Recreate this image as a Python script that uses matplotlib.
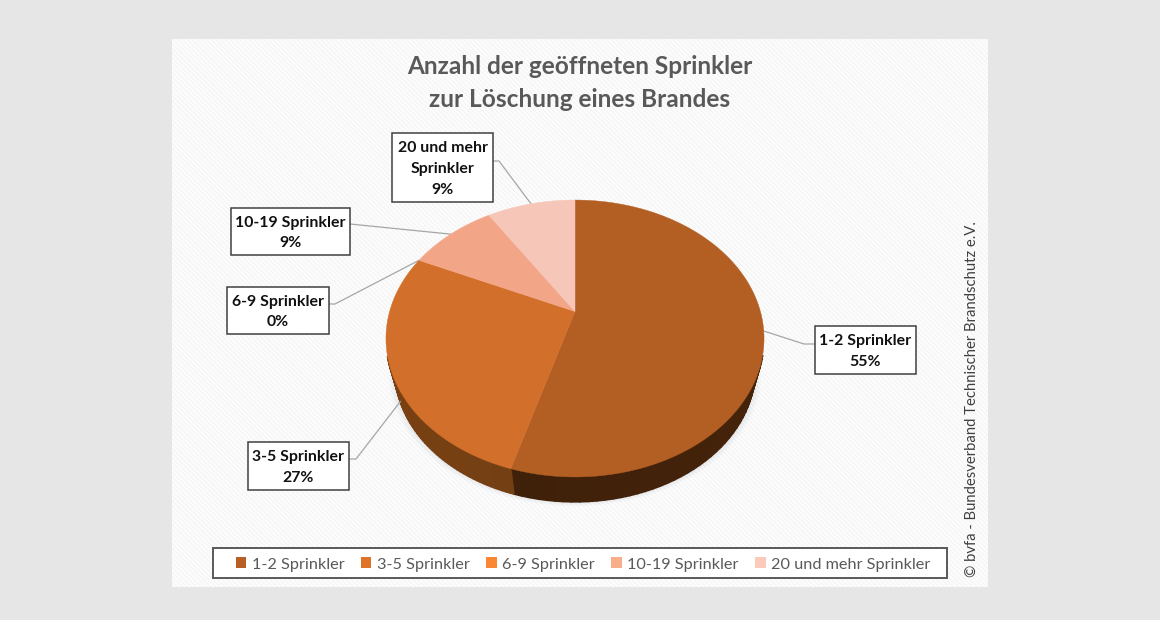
"""Anzahl der geoeffneten Sprinkler: tilted 3D look pie with callout labels."""
import matplotlib
matplotlib.use("Agg")
import matplotlib.pyplot as plt
import numpy as np
from matplotlib.collections import PolyCollection
from matplotlib.colors import to_rgb
from matplotlib.patches import Patch, Rectangle

categories = ["1-2 Sprinkler", "3-5 Sprinkler", "6-9 Sprinkler", "10-19 Sprinkler", "20 und mehr Sprinkler"]
fires = [6, 3, 0, 1, 1]
percent_labels = ["55%", "27%", "0%", "9%", "9%"]

TITLE = "Anzahl der geöffneten Sprinkler\nzur Löschung eines Brandes"
CREDIT = "© bvfa - Bundesverband Technischer Brandschutz e.V."

TOP_COLORS = ["#b35f23", "#d26f2a", "#f58634", "#f3a687", "#f6c6b9"]
LEGEND_COLORS = ["#b85f25", "#dd7427", "#f98734", "#f9ae8b", "#fbcabb"]
WALL_COLORS = {0: ("#46240b", "#3f2009"), 1: ("#744013", "#7a4011")}

# pie geometry in pixels: a circle seen in perspective
CX, CY = 575, 311.5
PERSP, SCALE_X, SCALE_Y = 0.195, 185.4, 133.2
WALL_SCALE, ELL_CY, WALL_CY = 0.952, 338.5, 370

# label boxes: left, top, right, bottom, elbow x, elbow y
BOXES = [
    (815, 326, 916, 374, 804, 344),
    (248, 442, 349, 490, 356, 459),
    (227, 287, 329, 334, 335, 304),
    (231, 208, 350, 255, 350, 224),
    (392, 133, 493, 202, 499, 161),
]
BOX_TEXT = [
    "1-2 Sprinkler", "3-5 Sprinkler", "6-9 Sprinkler", "10-19 Sprinkler", "20 und mehr\nSprinkler",
]


def top_face(t):
    """Map clockwise-from-top angles to pixel positions on the pie's top face."""
    u, v = np.sin(t), np.cos(t)
    w = 1 + PERSP * v
    return CX + SCALE_X * u / w, CY - SCALE_Y * v / w


def wall_edge(t):
    """Lower edge of the pie wall for the same angles."""
    x, y = top_face(t)
    return CX + WALL_SCALE * (x - CX), WALL_CY + WALL_SCALE * (y - ELL_CY)


plt.rcParams["font.family"] = ["Lato", "DejaVu Sans"]
fig = plt.figure(figsize=(11.6, 6.2), dpi=100, facecolor="#e6e6e6")
ax = fig.add_axes([0, 0, 1, 1])
ax.set_xlim(0, 1160)
ax.set_ylim(620, 0)
ax.axis("off")

# panel with faint diagonal stripes
ax.add_patch(Rectangle((172, 39), 816, 548, facecolor="#fdfdfd", edgecolor="none", zorder=0))
ax.add_patch(Rectangle((172, 39), 816, 548, facecolor="none", edgecolor="#f5f5f5",
                       hatch="\\\\\\\\\\\\\\", linewidth=0, zorder=0.1))

shares = np.array(fires, dtype=float) / sum(fires)
edges = np.concatenate([[0], np.cumsum(shares)]) * 2 * np.pi

# soft shadow under the pie
shadow_t = np.linspace(0, 2 * np.pi, 200)
for grow, alpha in [(6, 0.03), (4, 0.04), (2, 0.05)]:
    sx, sy = wall_edge(shadow_t)
    ax.fill(CX + (sx - CX) * (1 + grow / 180), sy + grow * 0.7, color="#5a6a7a", alpha=alpha,
            linewidth=0, zorder=1)

# wall of the pie, only the part that shows below the top face
for i, (c0, c1) in WALL_COLORS.items():
    t = np.linspace(edges[i], edges[i + 1], 90)
    t = t[(t > np.pi * 0.6) & (t < np.pi * 1.4)]
    x0, y0 = top_face(t)
    x1, y1 = wall_edge(t)
    quads, colors = [], []
    for j in range(len(t) - 1):
        quads.append([(x0[j], y0[j]), (x0[j + 1], y0[j + 1]), (x1[j + 1], y1[j + 1]), (x1[j], y1[j])])
        f = j / (len(t) - 2)
        colors.append(tuple((1 - f) * a + f * b for a, b in zip(to_rgb(c0), to_rgb(c1))))
    ax.add_collection(PolyCollection(quads, facecolors=colors, edgecolors=colors, linewidths=1.2, zorder=2))

# top face
for i, color in enumerate(TOP_COLORS):
    if shares[i] == 0:
        continue
    t = np.linspace(edges[i], edges[i + 1], 200)
    x, y = top_face(t)
    ax.fill(np.r_[CX, x], np.r_[CY, y], color=color, linewidth=0.3, zorder=3)

# callouts, anchored at each slice's middle angle
mids = (edges[:-1] + edges[1:]) / 2
for i, box in enumerate(BOXES):
    left, top, right, bottom, ex, ey = box
    if i == 1:
        ax_x, ax_y = wall_edge(mids[i])
    else:
        ax_x, ax_y = top_face(mids[i])
    side = left if ex < left else right
    ax.plot([side, ex, ax_x], [ey, ey, ax_y], color="#a6a6a6", linewidth=0.9, zorder=2.5)
    ax.add_patch(Rectangle((left, top), right - left, bottom - top, facecolor="white",
                           edgecolor="#404040", linewidth=1.1, zorder=4))
    ax.text((left + right) / 2, (top + bottom) / 2 + 1.5, BOX_TEXT[i] + "\n" + percent_labels[i],
            ha="center", va="center", fontsize=11.4, fontweight="bold", color="#111111",
            linespacing=1.6, zorder=5)

ax.text(580, 83, TITLE, ha="center", va="center", fontsize=17.6, fontweight="bold",
        color="#595959", linespacing=1.5)
ax.text(972, 577, CREDIT, rotation=90, ha="center", va="bottom", fontsize=10.7, color="#404040")

# legend frame is fixed, entries sit inside it
ax.add_patch(Rectangle((213, 548), 734, 30, facecolor="white", edgecolor="#595959", linewidth=1.4, zorder=4))
handles = [Patch(facecolor=c, edgecolor="none") for c in LEGEND_COLORS]
leg = ax.legend(handles, categories, ncol=5, loc="center", bbox_to_anchor=(583, 564.5),
                bbox_transform=ax.transData, fontsize=11.7, frameon=False,
                handlelength=0.65, handleheight=0.65, handletextpad=0.35, columnspacing=1.0,
                labelcolor="#595959")
leg.set_zorder(5)

fig.savefig("out.png", dpi=100)
